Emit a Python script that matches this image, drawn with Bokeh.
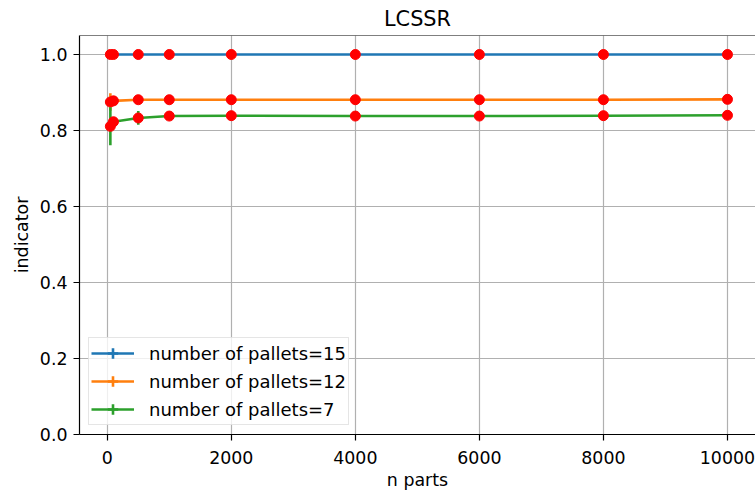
from bokeh.plotting import figure
from bokeh.models import (Legend, LegendItem, Span, FixedTicker, PrintfTickFormatter,
                          Range1d, ColumnDataSource)
from bokeh.embed import file_html
from bokeh.resources import INLINE
import numpy as np

# ---- data ----
n_parts = [50, 100, 500, 1000, 2000, 4000, 6000, 8000, 10000]

labels = ["number of pallets=15", "number of pallets=12", "number of pallets=7"]
colors = ["#1f77b4", "#ff7f0e", "#2ca02c"]

vals_15 = [1.0, 1.0, 1.0, 1.0, 1.0, 1.0, 1.0, 1.0, 1.0]
err_15 = [0.002, 0.001, 0.001, 0.001, 0.001, 0.001, 0.001, 0.001, 0.001]

vals_12 = [0.875, 0.878, 0.881, 0.881, 0.881, 0.881, 0.881, 0.881, 0.882]
err_12 = [0.023, 0.008, 0.004, 0.003, 0.002, 0.002, 0.002, 0.002, 0.002]

vals_7 = [0.811, 0.823, 0.833, 0.838, 0.839, 0.838, 0.838, 0.839, 0.840]
err_7 = [0.050, 0.012, 0.018, 0.005, 0.003, 0.002, 0.002, 0.002, 0.002]

series_vals = [vals_15, vals_12, vals_7]
series_errs = [err_15, err_12, err_7]

x_ticks = [0, 2000, 4000, 6000, 8000, 10000]
y_ticks = [0.0, 0.2, 0.4, 0.6, 0.8, 1.0]

FONT = "DejaVu Sans"
FS = "17.4px"

p = figure(width=755, height=492,
           x_range=Range1d(-447.5, 10452), y_range=Range1d(0, 1.05),
           output_backend="svg", toolbar_location=None,
           min_border_left=79, min_border_right=0, min_border_top=35, min_border_bottom=56,
           title="LCSSR")
p.outline_line_color = None
p.background_fill_color = "white"
p.border_fill_color = "white"

p.title.align = "center"
p.title.text_font = FONT
p.title.text_font_size = "20.8px"
p.title.text_font_style = "normal"
p.title.text_color = "black"
p.title.standoff = 9

for ax in (p.xaxis[0], p.yaxis[0]):
    ax.axis_line_color = "black"
    ax.axis_line_width = 1.2
    ax.major_tick_line_color = "black"
    ax.major_tick_line_width = 1.2
    ax.major_tick_out = 6
    ax.major_tick_in = 0
    ax.minor_tick_line_color = None
    ax.major_label_text_font = FONT
    ax.major_label_text_font_size = FS
    ax.major_label_text_color = "black"
    ax.axis_label_text_font = FONT
    ax.axis_label_text_font_size = FS
    ax.axis_label_text_font_style = "normal"
    ax.axis_label_text_color = "black"

p.xaxis.ticker = FixedTicker(ticks=x_ticks)
p.yaxis.ticker = FixedTicker(ticks=y_ticks)
p.xaxis.formatter = PrintfTickFormatter(format="%d")
p.yaxis.formatter = PrintfTickFormatter(format="%.1f")
p.xaxis.axis_label = "n parts"
p.yaxis.axis_label = "indicator"
p.xaxis.major_label_standoff = 10
p.yaxis.major_label_standoff = 6
p.xaxis.axis_label_standoff = 3
p.yaxis.axis_label_standoff = 5
p.xaxis.major_label_text_line_height = 1.0
p.xaxis.axis_label_text_line_height = 1.0

p.grid.grid_line_color = "#b0b0b0"
p.grid.grid_line_width = 1.2

# top spine
p.add_layout(Span(location=1.05, dimension="width", line_color="black", line_width=1.2))

items = []
for lab, col, vals, errs in zip(labels, colors, series_vals, series_errs):
    v = np.array(vals)
    e = np.array(errs)
    src = ColumnDataSource(dict(x=n_parts, y=vals, lo=v - e, hi=v + e))
    lr = p.line("x", "y", source=src, line_color=col, line_width=2.6)
    p.segment(x0="x", y0="lo", x1="x", y1="hi", source=src, line_color=col, line_width=2.6)
    cr = p.scatter("x", "y", source=src, marker="cross", size=0, line_color=col, line_width=2.6)
    p.scatter("x", "y", source=src, size=10, color="red")
    items.append(LegendItem(label=lab, renderers=[lr, cr]))

legend = Legend(items=items, location=(9, 9))
legend.label_text_font = FONT
legend.label_text_font_size = "18px"
legend.label_text_color = "black"
legend.glyph_width = 43
legend.glyph_height = 26
legend.label_height = 26
legend.label_standoff = 15
legend.padding = 2
legend.spacing = 2
legend.margin = 0
legend.border_line_color = "#cccccc"
legend.border_line_width = 1.2
legend.background_fill_color = "white"
legend.background_fill_alpha = 0.8
p.add_layout(legend, "center")

open("out.html", "w").write(file_html(p, INLINE))
